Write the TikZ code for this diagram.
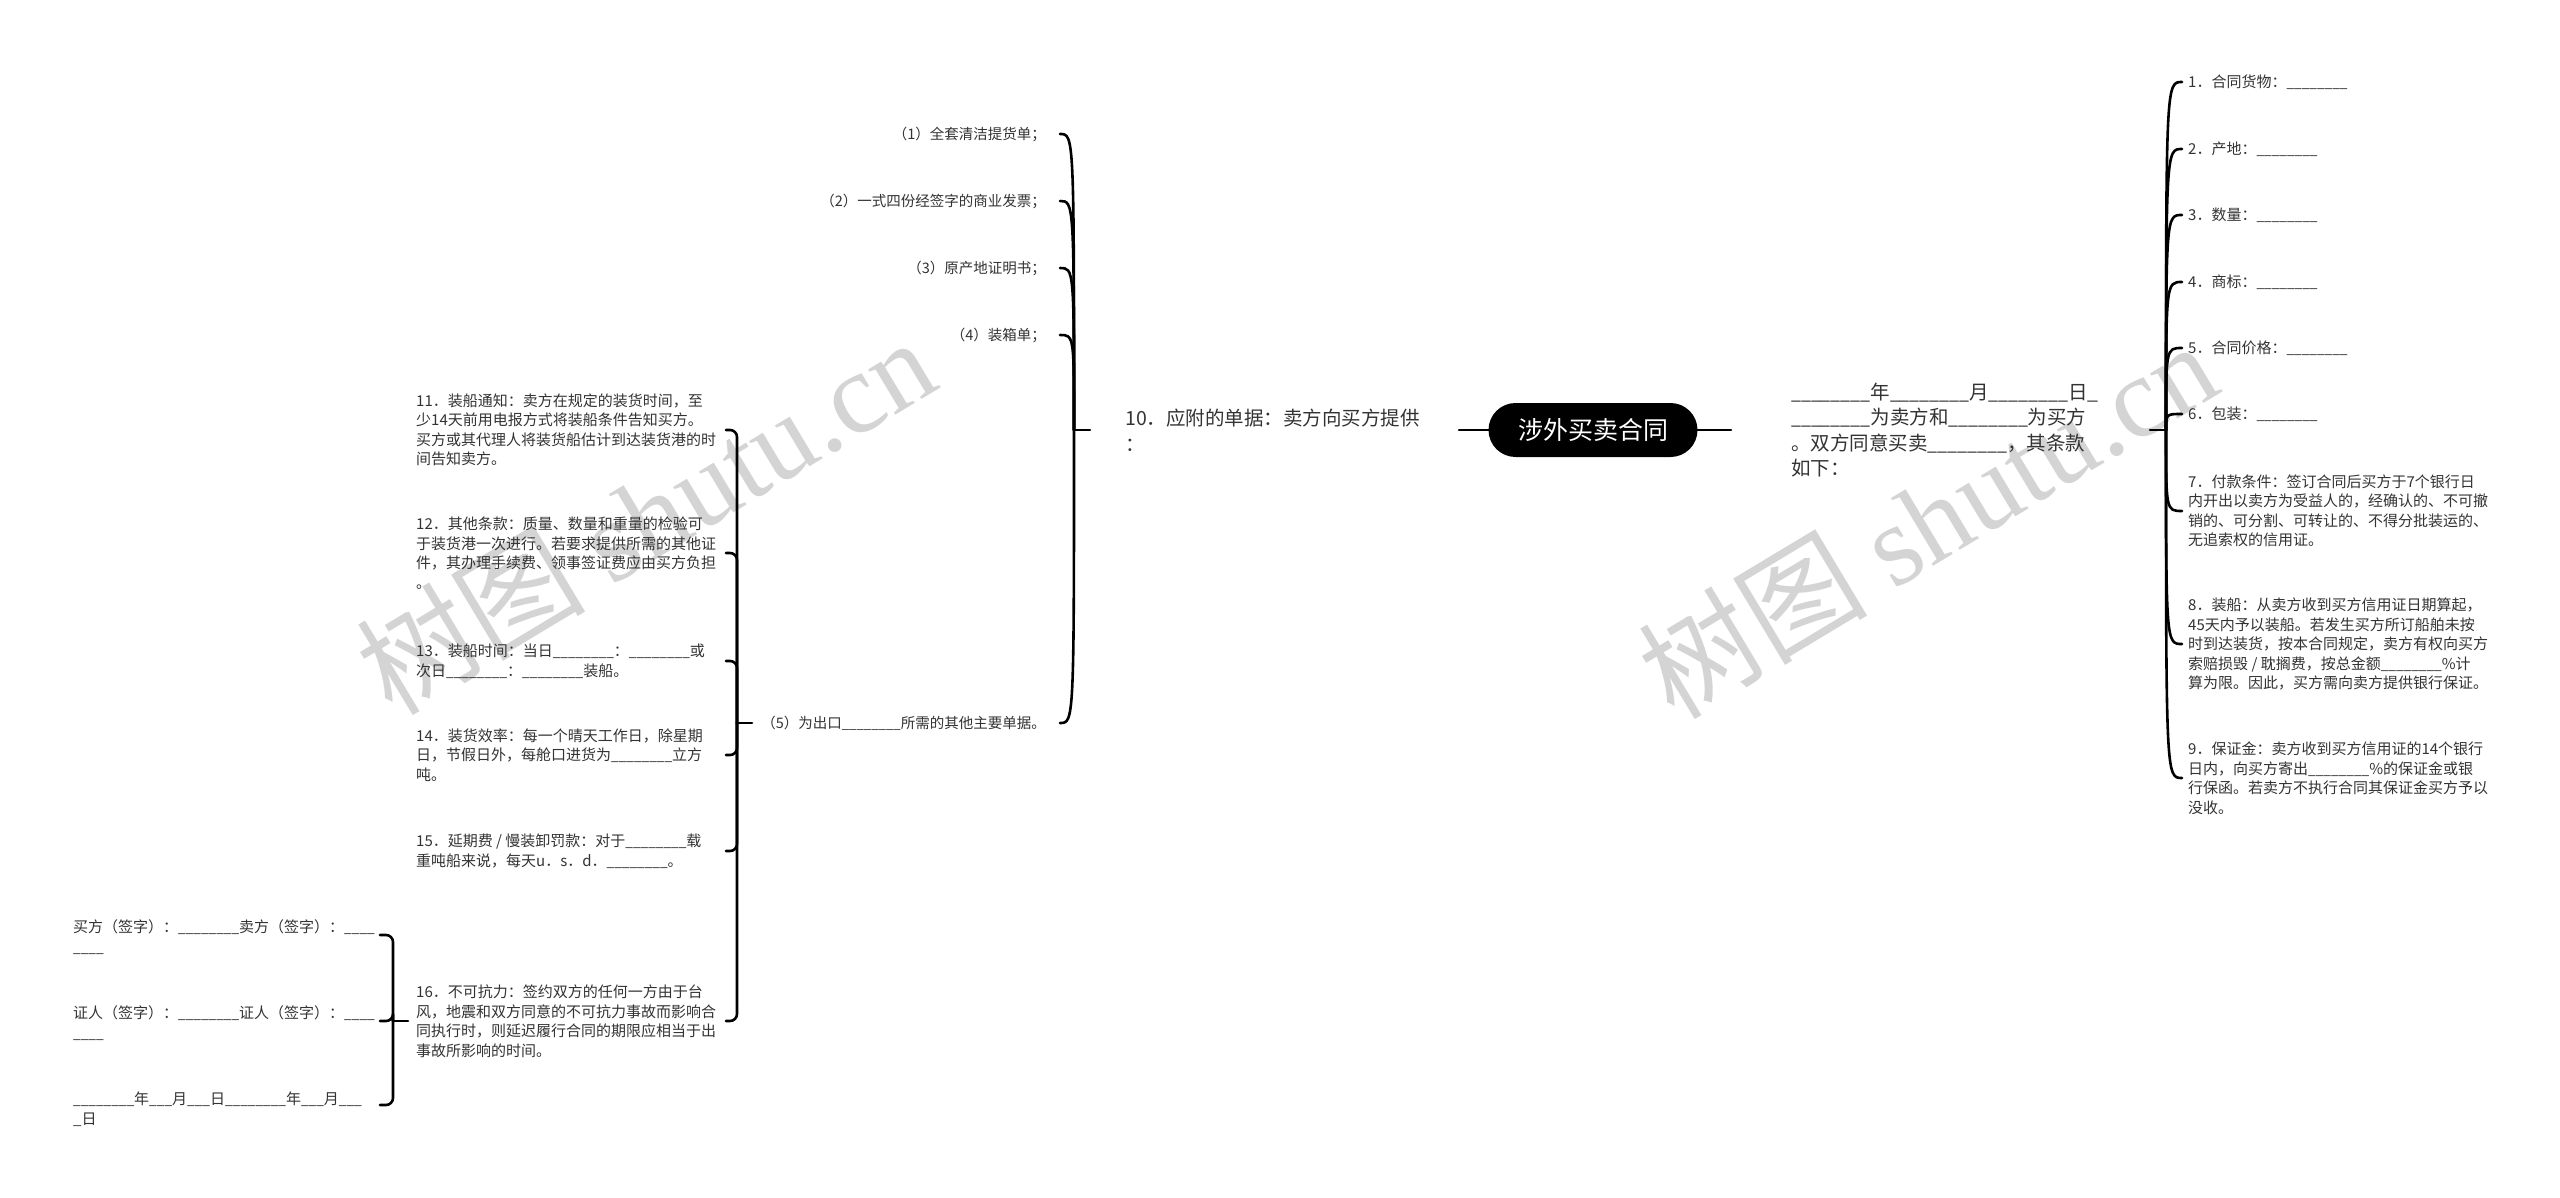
\documentclass[tikz,border=0pt]{standalone}
\usepackage{fontspec}
\usepackage{graphicx}
\setmainfont{Noto Sans CJK SC}
\newfontfamily\wmserif{Liberation Serif}
\usetikzlibrary{calc}
\definecolor{ink}{HTML}{333333}
\newcommand\myfs[2]{\fontsize{#1}{#2}\selectfont}
\newcommand\myblank{\scalebox{0.91}[1]{\_\_\_\_\_\_\_\_}}
\newcommand\mythree{\scalebox{0.91}[1]{\_\_\_}}
\newcommand\myfour{\scalebox{0.91}[1]{\_\_\_\_}}
\begin{document}
\begin{tikzpicture}[x=1pt,y=-1pt,
  conn/.style={line width=2.6pt, draw=black, line cap=round},
  small/.style={inner sep=0pt, align=left, font=\myfs{15}{19.5}, text=ink},
  smalls/.style={inner sep=0pt, align=left, font=\myfs{14.5}{19.5}, text=ink},
  med/.style={inner sep=0pt, align=left, font=\myfs{19.5}{25.5}, text=ink},
  pill/.style={fill=black, text=white, rounded corners=27pt, minimum width=209pt,
    minimum height=54pt, inner sep=0pt, font=\myfs{25}{30}},
  wm/.style={inner sep=0pt, text=black!17, font=\myfs{115}{120}}]
\fill[white] (0,0) rectangle (2560,1198);
\useasboundingbox (0,0) rectangle (2560,1198);

% watermarks
\node[wm, rotate=31] (wm1) at (645,515) {树图 {\wmserif shutu.cn}};
\node[wm, rotate=31] (wm2) at (1927,519) {树图 {\wmserif shutu.cn}};

% root
\coordinate (rootL) at (1459,430);
\coordinate (rootR) at (1731,430);
\draw[conn] (rootL) -- (rootR);
\node[pill] (root) at (1593,430) {涉外买卖合同};

% ---------- right side ----------
\node[med, anchor=west] (r0) at (1791,430) {\myblank{}年\myblank{}月\myblank{}日\_\\\myblank{}为卖方和\myblank{}为买方\\。双方同意买卖\myblank{}，其条款\\如下：};
\coordinate (r0out) at (2150,430);
\coordinate (hubR) at (2166,430);
\draw[conn] (r0out) -- (hubR);

\node[small, anchor=west] (r1) at (2188,82) {1．合同货物：\myblank};
\node[small, anchor=west] (r2) at (2188,149) {2．产地：\myblank};
\node[small, anchor=west] (r3) at (2188,215) {3．数量：\myblank};
\node[small, anchor=west] (r4) at (2188,282) {4．商标：\myblank};
\node[small, anchor=west] (r5) at (2188,348) {5．合同价格：\myblank};
\node[small, anchor=west] (r6) at (2188,414) {6．包装：\myblank};
\node[small, anchor=west] (r7) at (2188,511) {7．付款条件：签订合同后买方于7个银行日\\内开出以卖方为受益人的，经确认的、不可撤\\销的、可分割、可转让的、不得分批装运的、\\无追索权的信用证。};
\node[small, anchor=west] (r8) at (2188,644) {8．装船：从卖方收到买方信用证日期算起，\\45天内予以装船。若发生买方所订船舶未按\\时到达装货，按本合同规定，卖方有权向买方\\索赔损毁 / 耽搁费，按总金额\myblank{}\%计\\算为限。因此，买方需向卖方提供银行保证。};
\node[small, anchor=west] (r9) at (2188,778) {9．保证金：卖方收到买方信用证的14个银行\\日内，向买方寄出\myblank{}\%的保证金或银\\行保函。若卖方不执行合同其保证金买方予以\\没收。};

\foreach \n in {r1,r2,r3,r4,r5,r6,r7,r8,r9}{
  \draw[conn] (hubR) .. controls (hubR |- \n.west) and (hubR |- \n.west) .. ($(\n.west)+(-6,0)$);
}

% ---------- left side: item 10 ----------
\node[med, anchor=west, font=\myfs{19.5}{26}] (n10) at (1125,430) {10．应附的单据：卖方向买方提供\\：};
\coordinate (n10in) at ($(n10.west)+(-35,0)$);
\coordinate (hubA) at (1074,430);
\draw[conn] (n10in) -- (hubA);

\node[smalls, anchor=east] (i1) at (1046,134) {（1）全套清洁提货单；};
\node[smalls, anchor=east] (i2) at (1046,201) {（2）一式四份经签字的商业发票；};
\node[smalls, anchor=east] (i3) at (1046,268) {（3）原产地证明书；};
\node[smalls, anchor=east] (i4) at (1046,335) {（4）装箱单；};
\node[smalls, anchor=east] (i5) at (1046,723) {（5）为出口\myblank{}所需的其他主要单据。};

\foreach \n in {i1,i2,i3,i4,i5}{
  \draw[conn] (hubA) .. controls (hubA |- \n.east) and (hubA |- \n.east) .. ($(\n.east)+(14,0)$);
}

% ---------- children of (5) ----------
\coordinate (i5in) at (752,723);
\coordinate (hubB) at (737,723);
\draw[conn] (i5in) -- (hubB);

\node[small, anchor=west] (c11) at (416,430) {11．装船通知：卖方在规定的装货时间，至\\少14天前用电报方式将装船条件告知买方。\\买方或其代理人将装货船估计到达装货港的时\\间告知卖方。};
\node[small, anchor=west] (c12) at (416,553) {12．其他条款：质量、数量和重量的检验可\\于装货港一次进行。若要求提供所需的其他证\\件，其办理手续费、领事签证费应由买方负担\\。};
\node[small, anchor=west] (c13) at (416,661) {13．装船时间：当日\myblank{}：\myblank{}或\\次日\myblank{}：\myblank{}装船。};
\node[small, anchor=west] (c14) at (416,755) {14．装货效率：每一个晴天工作日，除星期\\日，节假日外，每舱口进货为\myblank{}立方\\吨。};
\node[small, anchor=west] (c15) at (416,851) {15．延期费 / 慢装卸罚款：对于\myblank{}载\\重吨船来说，每天u．s．d．\myblank{}。};
\node[small, anchor=west] (c16) at (416,1021) {16．不可抗力：签约双方的任何一方由于台\\风，地震和双方同意的不可抗力事故而影响合\\同执行时，则延迟履行合同的期限应相当于出\\事故所影响的时间。};

\foreach \n in {c11,c12,c13,c14,c15,c16}{
  \draw[conn, rounded corners=7pt] ($(hubB |- \n.west)+(-11,0)$) -- (hubB |- \n.west) -- (hubB);
}

% ---------- signatures (children of 16) ----------
\coordinate (c16in) at ($(c16.west)+(-8,0)$);
\coordinate (hubC) at (393,1021);
\draw[conn] (c16in) -- (hubC);

\node[small, anchor=west] (s1) at (73,937) {买方（签字）：\myblank{}卖方（签字）：\myfour\\\myfour};
\node[small, anchor=west] (s2) at (73,1023) {证人（签字）：\myblank{}证人（签字）：\myfour\\\myfour};
\node[small, anchor=west] (s3) at (73,1109) {\myblank{}年\mythree{}月\mythree{}日\myblank{}年\mythree{}月\mythree\\\_日};

\coordinate (s1in) at (380,935);
\coordinate (s2in) at (380,1021);
\coordinate (s3in) at (380,1105);
\foreach \n in {s1in,s2in,s3in}{
  \draw[conn, rounded corners=7pt] (\n) -- (hubC |- \n) -- (hubC);
}
\end{tikzpicture}
\end{document}
